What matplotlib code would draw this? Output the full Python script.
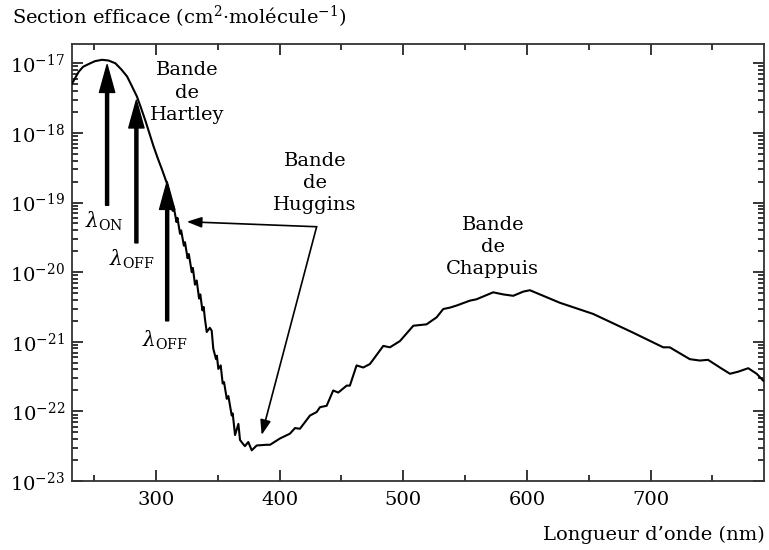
import matplotlib
matplotlib.use("Agg")
import matplotlib.pyplot as plt
import numpy as np
from matplotlib.ticker import LogLocator, MultipleLocator, NullFormatter, FixedLocator

plt.rcParams['font.family'] = ['DejaVu Serif']
plt.rcParams['mathtext.fontset'] = 'dejavuserif'

# Ozone absorption cross-section (wavelength in nm, log10 of sigma in cm2/molecule)
wavelength = [232.1, 237.5, 241.0, 245.6, 250.5, 256.3, 261.5, 267.1, 272.0, 276.6, 280.5, 284.6,
              288.0, 291.3, 294.7, 298.1, 301.5, 304.9,
              308.7, 311.3, 313.5, 314.3, 316.5, 317.3, 319.4, 320.3, 322.5, 323.4, 325.5, 326.5,
              328.9, 329.8, 331.5, 332.9, 334.8, 335.8, 337.5, 338.5, 339.6, 341.0, 343.5, 345.0,
              346.3, 348.5, 349.2, 350.4, 352.3, 353.9, 355.0, 357.2, 358.5, 361.2, 362.0, 363.9,
              366.6, 367.9, 370.0, 371.9, 374.6, 377.4, 381.4, 389.5, 392.2, 400.2, 408.3, 412.4,
              416.4, 424.5, 429.9, 432.6, 438.0, 443.3, 447.4, 454.2, 456.8, 462.2, 467.6, 473.0,
              483.8, 489.2, 497.3, 508.1, 518.8, 526.9, 532.3, 537.7, 543.1, 553.8, 559.2, 572.7,
              580.8, 588.9, 597.0, 602.4, 626.6, 653.5, 685.9, 702.1, 710.2, 715.5, 731.7, 739.8,
              746.5, 756.1, 764.2, 770.9, 779.0, 785.8, 791.2]
log_sigma = [-17.29, -17.12, -17.05, -17.01, -16.97, -16.95, -16.96, -17.00, -17.09, -17.19, -17.33, -17.48,
             -17.65, -17.82, -18.01, -18.20, -18.37, -18.53,
             -18.72, -18.92, -19.12, -19.06, -19.28, -19.22, -19.45, -19.40, -19.62, -19.57, -19.80, -19.74,
             -20.00, -19.94, -20.18, -20.12, -20.38, -20.32, -20.55, -20.50, -20.68, -20.86, -20.80, -20.84,
             -21.10, -21.25, -21.20, -21.39, -21.34, -21.60, -21.58, -21.82, -21.78, -22.06, -22.03, -22.34,
             -22.18, -22.41, -22.46, -22.50, -22.44, -22.56, -22.49, -22.48, -22.48, -22.39, -22.32, -22.24,
             -22.25, -22.06, -22.01, -21.94, -21.92, -21.70, -21.73, -21.63, -21.63, -21.34, -21.37, -21.32,
             -21.06, -21.08, -20.99, -20.77, -20.75, -20.65, -20.53, -20.51, -20.48, -20.41, -20.39, -20.29,
             -20.32, -20.34, -20.28, -20.26, -20.44, -20.60, -20.87, -21.01, -21.08, -21.08, -21.25, -21.27,
             -21.26, -21.37, -21.46, -21.43, -21.38, -21.46, -21.56]

# Lidar wavelengths (arrows): x position, arrow base and tip (log10 sigma)
lambda_names = [r"$\lambda_{\rm ON}$", r"$\lambda_{\rm OFF}$", r"$\lambda_{\rm OFF}$"]
lambda_x = [260.4, 284.1, 309.0]
lambda_base = [-19.04, -19.58, -20.70]
lambda_tip = [-17.02, -17.53, -18.70]

# Band labels (centre of the middle line)
band_names = ["Bande\nde\nHartley", "Bande\nde\nHuggins", "Bande\nde\nChappuis"]
band_x = [325.4, 428.5, 572.4]
band_y = [-17.42, -18.72, -19.64]

xticks = [300, 400, 500, 600, 700]
ytick_exponents = [-23, -22, -21, -20, -19, -18, -17]

fig = plt.figure(figsize=(7.69, 5.5), dpi=100)
ax = fig.add_axes([0.0936, 0.1255, 0.9003, 0.794])

sigma = 10.0 ** np.array(log_sigma)
ax.plot(wavelength, sigma, color='black', lw=1.5, zorder=3, solid_joinstyle='round')

ax.set_yscale('log')
ax.set_xlim(232, 792)
ax.set_ylim(1e-23, 10.0 ** -16.727)

ax.set_xticks(xticks)
ax.xaxis.set_minor_locator(MultipleLocator(50))
ax.yaxis.set_major_locator(FixedLocator([10.0 ** e for e in ytick_exponents]))
ax.yaxis.set_minor_locator(LogLocator(base=10, subs=np.arange(2, 10), numticks=20))
ax.yaxis.set_minor_formatter(NullFormatter())

ax.tick_params(which='both', direction='in', top=True, right=True, labelsize=14, colors='black')
ax.tick_params(which='major', length=8, width=1.1, pad=7)
ax.tick_params(which='minor', length=4.5, width=1.1)
ax.tick_params(axis='y', which='major', pad=5)
for s in ax.spines.values():
    s.set_linewidth(1.3)
    s.set_color('#333333')

# Lambda arrows
for name, x, b, t in zip(lambda_names, lambda_x, lambda_base, lambda_tip):
    ax.annotate('', xy=(x, 10.0 ** t), xytext=(x, 10.0 ** b),
                arrowprops=dict(width=2.2, headwidth=11, headlength=20,
                                facecolor='black', edgecolor='black', shrink=0))

label_offsets = [(-2.0, -0.23), (-3.5, -0.23), (-1.5, -0.28)]
for name, x, b, (dx, dy) in zip(lambda_names, lambda_x, lambda_base, label_offsets):
    ax.text(x + dx, 10.0 ** (b + dy), name, fontsize=14.5, ha='center', va='center')

# Band labels
for name, x, y in zip(band_names, band_x, band_y):
    ax.text(x, 10.0 ** y, name, fontsize=14, ha='center', va='center', linespacing=1.3)

# Huggins arrows from a common corner
corner = (429.9, 10.0 ** -19.348)
for tip in [(324.8, 10.0 ** -19.276), (385.4, 10.0 ** -22.34)]:
    ax.annotate('', xy=tip, xytext=corner,
                arrowprops=dict(arrowstyle='-|>,head_length=0.9,head_width=0.32',
                                mutation_scale=10, lw=1.2, color='black',
                                shrinkA=0, shrinkB=0))

fig.text(12 / 769, 1 - 17 / 550, "Section efficace (cm$^2$·molécule$^{-1}$)", fontsize=14,
         ha='left', va='center')
fig.text(765 / 769, 1 - 535 / 550, "Longueur d\u2019onde (nm)", fontsize=14,
         ha='right', va='center')

fig.savefig('out.png', dpi=100)
